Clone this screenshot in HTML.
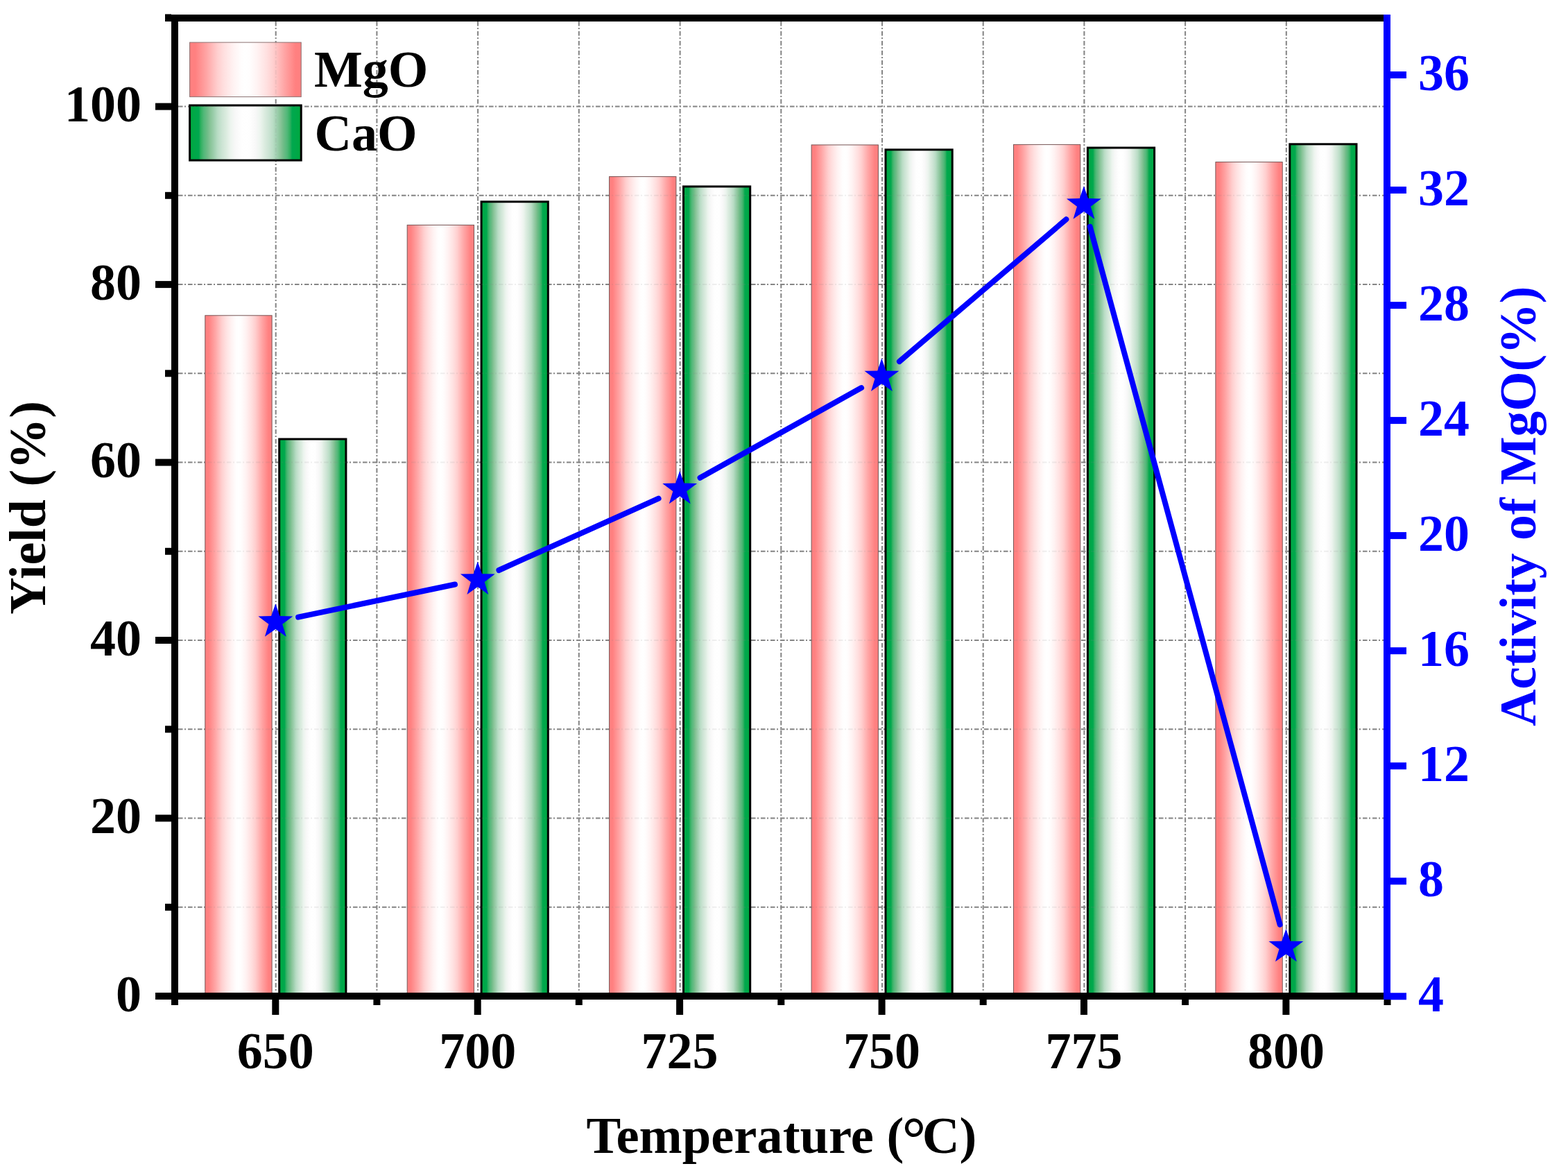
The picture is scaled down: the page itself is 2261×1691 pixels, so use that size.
<!DOCTYPE html><html><head><meta charset="utf-8"><title>Yield and Activity of MgO vs Temperature</title>
<style>html,body{margin:0;padding:0;background:#fff;}svg{display:block;}</style></head><body>
<svg width="2261" height="1691" viewBox="0 0 2261 1691">
<defs>
<linearGradient id="gp" x1="0" y1="0" x2="1" y2="0"><stop offset="0" stop-color="#ff8080"/><stop offset="0.05" stop-color="#ff8080"/><stop offset="0.15" stop-color="#ffa5a5"/><stop offset="0.25" stop-color="#ffcfcf"/><stop offset="0.31" stop-color="#ffe0e0"/><stop offset="0.39" stop-color="#fff2f2"/><stop offset="0.46" stop-color="#fffdfd"/><stop offset="0.5" stop-color="#ffffff"/><stop offset="0.54" stop-color="#fffdfd"/><stop offset="0.61" stop-color="#fff2f2"/><stop offset="0.69" stop-color="#ffe0e0"/><stop offset="0.75" stop-color="#ffcfcf"/><stop offset="0.85" stop-color="#ffa5a5"/><stop offset="0.95" stop-color="#ff8080"/><stop offset="1" stop-color="#ff8080"/></linearGradient>
<linearGradient id="gg" x1="0" y1="0" x2="1" y2="0"><stop offset="0" stop-color="#00b030"/><stop offset="0.02" stop-color="#00a844"/><stop offset="0.08" stop-color="#00a84e"/><stop offset="0.1" stop-color="#30b060"/><stop offset="0.125" stop-color="#50b878"/><stop offset="0.16" stop-color="#70bc88"/><stop offset="0.185" stop-color="#88c498"/><stop offset="0.22" stop-color="#a0d0b0"/><stop offset="0.25" stop-color="#b8dcc4"/><stop offset="0.29" stop-color="#cce4d4"/><stop offset="0.33" stop-color="#dcece0"/><stop offset="0.365" stop-color="#ecf4ee"/><stop offset="0.41" stop-color="#f8f8f8"/><stop offset="0.46" stop-color="#fefefe"/><stop offset="0.5" stop-color="#ffffff"/><stop offset="0.54" stop-color="#fefefe"/><stop offset="0.59" stop-color="#f8f8f8"/><stop offset="0.635" stop-color="#ecf4ee"/><stop offset="0.67" stop-color="#dcece0"/><stop offset="0.71" stop-color="#cce4d4"/><stop offset="0.75" stop-color="#b8dcc4"/><stop offset="0.78" stop-color="#a0d0b0"/><stop offset="0.815" stop-color="#88c498"/><stop offset="0.84" stop-color="#70bc88"/><stop offset="0.875" stop-color="#50b878"/><stop offset="0.9" stop-color="#30b060"/><stop offset="0.92" stop-color="#00a84e"/><stop offset="0.98" stop-color="#00a844"/><stop offset="1" stop-color="#00b030"/></linearGradient>
</defs>
<rect width="2261" height="1691" fill="#fff"/>
<g stroke="#858585" stroke-width="2" stroke-dasharray="6.5 2.5 2 3" fill="none"><line x1="257" y1="1307.8" x2="1995" y2="1307.8"/><line x1="257" y1="1179.5" x2="1995" y2="1179.5"/><line x1="257" y1="1051.3" x2="1995" y2="1051.3"/><line x1="257" y1="923.0" x2="1995" y2="923.0"/><line x1="257" y1="794.8" x2="1995" y2="794.8"/><line x1="257" y1="666.6" x2="1995" y2="666.6"/><line x1="257" y1="538.3" x2="1995" y2="538.3"/><line x1="257" y1="410.1" x2="1995" y2="410.1"/><line x1="257" y1="281.8" x2="1995" y2="281.8"/><line x1="257" y1="153.6" x2="1995" y2="153.6"/><line x1="397.7" y1="31" x2="397.7" y2="1431"/><line x1="543.4" y1="31" x2="543.4" y2="1431"/><line x1="689.1" y1="31" x2="689.1" y2="1431"/><line x1="834.8" y1="31" x2="834.8" y2="1431"/><line x1="980.6" y1="31" x2="980.6" y2="1431"/><line x1="1126.3" y1="31" x2="1126.3" y2="1431"/><line x1="1272.0" y1="31" x2="1272.0" y2="1431"/><line x1="1417.7" y1="31" x2="1417.7" y2="1431"/><line x1="1563.4" y1="31" x2="1563.4" y2="1431"/><line x1="1709.1" y1="31" x2="1709.1" y2="1431"/><line x1="1854.8" y1="31" x2="1854.8" y2="1431"/></g>
<rect x="295.8" y="454.8" width="96.3" height="981.7" fill="url(#gp)" stroke="#765454" stroke-width="1"/>
<rect x="402.7" y="633.0" width="96.2" height="803.0" fill="url(#gg)" stroke="#000" stroke-width="3"/>
<rect x="587.2" y="324.4" width="96.3" height="1112.1" fill="url(#gp)" stroke="#765454" stroke-width="1"/>
<rect x="694.1" y="290.8" width="96.2" height="1145.2" fill="url(#gg)" stroke="#000" stroke-width="3"/>
<rect x="878.6" y="254.6" width="96.3" height="1181.9" fill="url(#gp)" stroke="#765454" stroke-width="1"/>
<rect x="985.5" y="268.9" width="96.2" height="1167.1" fill="url(#gg)" stroke="#000" stroke-width="3"/>
<rect x="1170.1" y="208.9" width="96.3" height="1227.6" fill="url(#gp)" stroke="#765454" stroke-width="1"/>
<rect x="1277.0" y="215.8" width="96.2" height="1220.2" fill="url(#gg)" stroke="#000" stroke-width="3"/>
<rect x="1461.5" y="208.4" width="96.3" height="1228.1" fill="url(#gp)" stroke="#765454" stroke-width="1"/>
<rect x="1568.4" y="213.0" width="96.2" height="1223.0" fill="url(#gg)" stroke="#000" stroke-width="3"/>
<rect x="1752.9" y="233.6" width="96.3" height="1202.9" fill="url(#gp)" stroke="#765454" stroke-width="1"/>
<rect x="1859.8" y="207.8" width="96.2" height="1228.2" fill="url(#gg)" stroke="#000" stroke-width="3"/>
<rect x="273.6" y="61.1" width="160.6" height="78.5" fill="url(#gp)" stroke="#8a7070" stroke-width="1"/>
<rect x="273.6" y="151.9" width="160.6" height="79.2" fill="url(#gg)" stroke="#000" stroke-width="3"/>
<g font-family="Liberation Serif, serif" font-weight="bold" font-size="74" fill="#000">
<text x="453" y="124.7">MgO</text>
<text x="453.5" y="216.7">CaO</text>
</g>
<g stroke="#858585" stroke-width="2" stroke-dasharray="6.5 2.5 2 3" fill="none" opacity="0.12"><line x1="257" y1="1307.8" x2="1995" y2="1307.8"/><line x1="257" y1="1179.5" x2="1995" y2="1179.5"/><line x1="257" y1="1051.3" x2="1995" y2="1051.3"/><line x1="257" y1="923.0" x2="1995" y2="923.0"/><line x1="257" y1="794.8" x2="1995" y2="794.8"/><line x1="257" y1="666.6" x2="1995" y2="666.6"/><line x1="257" y1="538.3" x2="1995" y2="538.3"/><line x1="257" y1="410.1" x2="1995" y2="410.1"/><line x1="257" y1="281.8" x2="1995" y2="281.8"/><line x1="257" y1="153.6" x2="1995" y2="153.6"/><line x1="397.7" y1="31" x2="397.7" y2="1431"/><line x1="543.4" y1="31" x2="543.4" y2="1431"/><line x1="689.1" y1="31" x2="689.1" y2="1431"/><line x1="834.8" y1="31" x2="834.8" y2="1431"/><line x1="980.6" y1="31" x2="980.6" y2="1431"/><line x1="1126.3" y1="31" x2="1126.3" y2="1431"/><line x1="1272.0" y1="31" x2="1272.0" y2="1431"/><line x1="1417.7" y1="31" x2="1417.7" y2="1431"/><line x1="1563.4" y1="31" x2="1563.4" y2="1431"/><line x1="1709.1" y1="31" x2="1709.1" y2="1431"/><line x1="1854.8" y1="31" x2="1854.8" y2="1431"/></g>
<g stroke="#0000ff" stroke-width="8" stroke-linecap="round"><line x1="430.1" y1="889.7" x2="656.0" y2="842.5"/><line x1="719.4" y1="822.0" x2="949.6" y2="718.7"/><line x1="1009.5" y1="688.7" x2="1242.1" y2="559.1"/><line x1="1296.9" y1="521.1" x2="1537.4" y2="316.2"/><line x1="1571.7" y1="326.8" x2="1845.6" y2="1332.8"/></g>
<g fill="#0000ff"><polygon points="397.3,870.3 403.4,888.1 422.2,888.4 407.2,899.7 412.7,917.7 397.3,906.9 381.9,917.7 387.4,899.7 372.4,888.4 391.2,888.1"/><polygon points="688.8,809.5 694.9,827.3 713.7,827.6 698.7,838.9 704.2,856.9 688.8,846.1 673.4,856.9 678.9,838.9 663.9,827.6 682.7,827.3"/><polygon points="980.2,678.8 986.3,696.6 1005.1,696.9 990.1,708.2 995.6,726.2 980.2,715.4 964.8,726.2 970.3,708.2 955.3,696.9 974.1,696.6"/><polygon points="1271.4,516.6 1277.5,534.4 1296.3,534.7 1281.3,546.0 1286.8,564.0 1271.4,553.2 1256.0,564.0 1261.5,546.0 1246.5,534.7 1265.3,534.4"/><polygon points="1562.9,268.3 1569.0,286.1 1587.8,286.4 1572.8,297.7 1578.3,315.7 1562.9,304.9 1547.5,315.7 1553.0,297.7 1538.0,286.4 1556.8,286.1"/><polygon points="1854.4,1338.9 1860.5,1356.7 1879.3,1357.0 1864.3,1368.3 1869.8,1386.3 1854.4,1375.5 1839.0,1386.3 1844.5,1368.3 1829.5,1357.0 1848.3,1356.7"/></g>
<g fill="#000"><rect x="238" y="21" width="1757" height="10"/><rect x="247" y="21" width="10" height="1428"/><rect x="224" y="1431" width="1771" height="10"/><rect x="224" y="1431.0" width="23" height="10"/><rect x="224" y="1174.5" width="23" height="10"/><rect x="224" y="918.0" width="23" height="10"/><rect x="224" y="661.6" width="23" height="10"/><rect x="224" y="405.1" width="23" height="10"/><rect x="224" y="148.6" width="23" height="10"/><rect x="238" y="1302.8" width="9" height="10"/><rect x="238" y="1046.3" width="9" height="10"/><rect x="238" y="789.8" width="9" height="10"/><rect x="238" y="533.3" width="9" height="10"/><rect x="238" y="276.8" width="9" height="10"/><rect x="238" y="20.4" width="9" height="10"/><rect x="392.3" y="1441" width="10" height="22"/><rect x="683.7" y="1441" width="10" height="22"/><rect x="975.1" y="1441" width="10" height="22"/><rect x="1266.6" y="1441" width="10" height="22"/><rect x="1558.0" y="1441" width="10" height="22"/><rect x="1849.4" y="1441" width="10" height="22"/><rect x="247.0" y="1441" width="10" height="8"/><rect x="538.4" y="1441" width="10" height="8"/><rect x="829.8" y="1441" width="10" height="8"/><rect x="1121.3" y="1441" width="10" height="8"/><rect x="1412.7" y="1441" width="10" height="8"/><rect x="1704.1" y="1441" width="10" height="8"/><rect x="1995.5" y="1441" width="10" height="8"/></g>
<g fill="#0000ff"><rect x="1995" y="21" width="10" height="1420"/><rect x="2005" y="1431.3" width="23" height="10"/><rect x="2005" y="1265.3" width="23" height="10"/><rect x="2005" y="1099.2" width="23" height="10"/><rect x="2005" y="933.2" width="23" height="10"/><rect x="2005" y="767.1" width="23" height="10"/><rect x="2005" y="601.1" width="23" height="10"/><rect x="2005" y="435.1" width="23" height="10"/><rect x="2005" y="269.0" width="23" height="10"/><rect x="2005" y="103.0" width="23" height="10"/></g>
<g font-family="Liberation Serif, serif" font-weight="bold" font-size="74" fill="#000">
<text x="204" y="1457.5" text-anchor="end">0</text>
<text x="204" y="1201.0" text-anchor="end">20</text>
<text x="204" y="944.5" text-anchor="end">40</text>
<text x="204" y="688.1" text-anchor="end">60</text>
<text x="204" y="431.6" text-anchor="end">80</text>
<text x="204" y="175.1" text-anchor="end">100</text>
<text x="397.3" y="1540" text-anchor="middle">650</text>
<text x="688.7" y="1540" text-anchor="middle">700</text>
<text x="980.1" y="1540" text-anchor="middle">725</text>
<text x="1271.6" y="1540" text-anchor="middle">750</text>
<text x="1563.0" y="1540" text-anchor="middle">775</text>
<text x="1854.4" y="1540" text-anchor="middle">800</text>
<text x="845.5" y="1662" font-size="74.6">Temperature (<tspan font-size="86" dx="-2.5" dy="8">°</tspan><tspan dy="-8" dx="-5.5">C)</tspan></text>
<text transform="translate(64.5,732) rotate(-90)" text-anchor="middle">Yield (%)</text>
</g>
<g font-family="Liberation Serif, serif" font-weight="bold" font-size="74" fill="#0000ff">
<text x="2045" y="1458.1">4</text>
<text x="2045" y="1292.1">8</text>
<text x="2045" y="1126.0">12</text>
<text x="2045" y="960.0">16</text>
<text x="2045" y="793.9">20</text>
<text x="2045" y="627.9">24</text>
<text x="2045" y="461.9">28</text>
<text x="2045" y="295.8">32</text>
<text x="2045" y="129.8">36</text>
<text transform="translate(2213.8,729.8) rotate(-90)" text-anchor="middle" font-size="73.7">Activity of MgO(%)</text>
</g>
</svg></body></html>
